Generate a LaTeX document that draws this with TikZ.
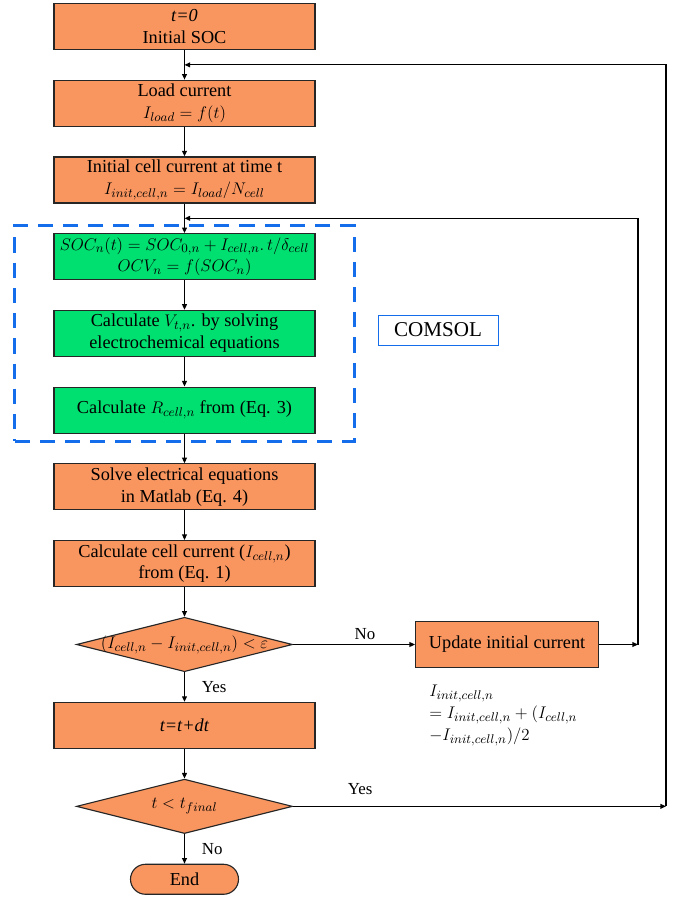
\documentclass[tikz,border=0pt]{standalone}
\usepackage{fontspec}
\setmainfont{Liberation Serif}
\usetikzlibrary{arrows.meta, calc, positioning, shapes.geometric, fit}
\definecolor{boxorange}{RGB}{249,150,96}
\definecolor{boxgreen}{RGB}{0,224,112}
\definecolor{comsolblue}{RGB}{20,110,235}
\def\boxwidth{6.525cm}
\def\boxheight{1.15cm}
\def\innerloop{15.95}
\def\outerloop{16.65}
\def\boxfont{\fontsize{13}{15.5}\selectfont}
\tikzset{
% Process
process/.style={
	rectangle, draw=black!85, line width=0.8pt, fill=boxorange,
	minimum width=\boxwidth, minimum height=\boxheight,
	align=center, font=\boxfont, inner xsep=2pt, inner ysep=0pt,
	},
% COMSOL step
model/.style={
	process, fill=boxgreen,
	},
% Decision
decision/.style={
	diamond, aspect=3.9, draw=black!85, line width=0.8pt, fill=boxorange,
	minimum width=5.4cm, minimum height=1.36cm, inner sep=0pt,
	font=\boxfont,
	},
% Terminal
terminal/.style={
	rectangle, rounded corners=0.375cm, draw=black!85, line width=0.8pt, fill=boxorange,
	minimum width=2.7cm, minimum height=0.75cm, font=\boxfont,
	},
% Connection
flow/.style={
	line width=0.9pt, -{Triangle[length=1.4mm, width=1.2mm]},
	},
% Branch label
branch/.style={
	font=\fontsize{12}{14}\selectfont,
	},
}

\begin{document}
\begin{tikzpicture}[node distance = 0.74cm]
		\useasboundingbox (0,0) rectangle (17.275,-22.425);

		% Main column
		\node[process] (start) at (4.6125,-0.6625) {\textit{t=0}\\Initial SOC};
		\node[process, below=of start] (load) {Load current\\$I_{load}=f(t)$};
		\node[process, below=of load] (initcur) {Initial cell current at time t\\$I_{init,cell,n}=I_{load}/N_{cell}$};

		% COMSOL part
		\node[model, below=of initcur] (soc) {$SOC_n(t)=SOC_{0,n}+I_{cell,n}.\,t/\delta_{cell}$\\$OCV_n=f(SOC_n)$};
		\node[model, below=of soc] (vt) {Calculate $V_{t,n}$. by solving\\electrochemical equations};
		\node[model, below=of vt] (rcell) {Calculate $R_{cell,n}$ from (Eq. 3)};

		\node[process, below=of rcell] (solve) {Solve electrical equations\\in Matlab (Eq. 4)};
		\node[process, below=of solve] (calc) {Calculate cell current ($I_{cell,n}$)\\from (Eq. 1)};
		\node[decision, below=of calc] (check) {\makebox[0pt]{$(I_{cell,n}-I_{init,cell,n})<\varepsilon$}};
		\node[process, below=of check] (advance) {\textit{t=t+dt}};
		\node[decision, below=of advance] (final) {$t<t_{final}$};
		\node[terminal, below=of final] (finish) {End};

		% Side
		\node[process, minimum width=4.575cm, right=3.05cm of check] (update) {Update initial current};
		\node[align=left, font=\boxfont, inner sep=0pt, anchor=north west,
			below right=0.42cm and 0.35cm of update.south west] (rule)
			{$I_{init,cell,n}$\\$=I_{init,cell,n}+(I_{cell,n}$\\$-I_{init,cell,n})/2$};

		% COMSOL frame
		\node[fit=(soc)(rcell), draw=comsolblue, line width=2pt,
			dash pattern=on 0.38cm off 0.25cm, inner xsep=0.97cm, inner ysep=0.19cm] (frame) {};
		\node[draw=comsolblue, line width=0.6pt, minimum width=3cm, minimum height=0.75cm,
			font=\fontsize{15}{18}\selectfont] (comsol) at (10.95,-8.25) {COMSOL};

		% Loop coordinates
		\coordinate (innerx) at (\innerloop,0);
		\coordinate (outerx) at (\outerloop,0);
		\coordinate (join0) at ($(start.south)!0.5!(load.north)$);
		\coordinate (join1) at ($(initcur.south)!0.5!(soc.north)$);

		% Connections
		\draw[flow] (start) -- (load);
		\draw[flow] (load) -- (initcur);
		\draw[flow] (initcur) -- (soc);
		\draw[flow] (soc) -- (vt);
		\draw[flow] (vt) -- (rcell);
		\draw[flow] (rcell) -- (solve);
		\draw[flow] (solve) -- (calc);
		\draw[flow] (calc) -- (check);
		\draw[flow] (check) -- node[branch, right=0.3cm] {Yes} (advance);
		\draw[flow] (advance) -- (final);
		\draw[flow] (final) -- node[branch, right=0.3cm] {No} (finish);

		% Inner loop
		\draw[flow] (check) -- node[branch, above, pos=0.59] {No} (update);
		\draw[flow] (update) -- (update.east -| innerx);
		\draw[flow] (update.east -| innerx) |- (join1);

		% Outer loop
		\draw[flow] (final) -- node[branch, above=0.15cm, pos=0.18] {Yes} (final -| outerx);
		\draw[flow] (final -| outerx) |- (join0);
	\end{tikzpicture}
\end{document}
